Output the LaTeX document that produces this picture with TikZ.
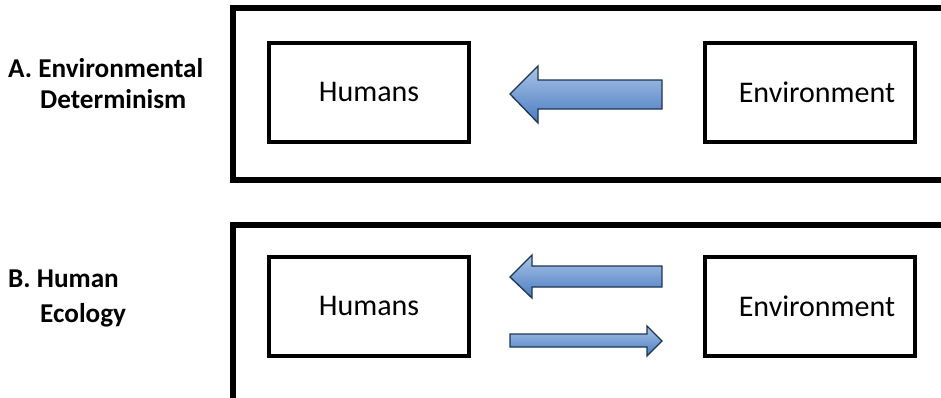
\documentclass[tikz,border=0pt]{standalone}
\usepackage{fontspec}
\setmainfont{Carlito}
\definecolor{arrowtop}{HTML}{A9C4E8}
\definecolor{arrowbot}{HTML}{4A7CC0}
\definecolor{arrowline}{HTML}{1E3550}
\begin{document}
\begin{tikzpicture}[x=1pt,y=-1pt,
  outerbox/.style={draw=black,line width=6pt},
  innerbox/.style={draw=black,line width=4pt,minimum width=200pt,minimum height=99pt,inner sep=0pt,font=\fontsize{30}{36}\selectfont},
  lbl/.style={font=\bfseries\fontsize{27.2}{33}\selectfont,anchor=base west,inner sep=0pt},
  blockarrow/.style={draw=arrowline,line width=1.3pt,line join=miter,top color=arrowtop,bottom color=arrowbot}]
\useasboundingbox (0,0) rectangle (941,397);
\clip (0,0) rectangle (941,397);
% outer frames
\draw[outerbox] (233,8) rectangle (990,180);
\draw[outerbox] (233,225) rectangle (990,430);
% labels
\node[lbl] (la1) at (8,77) {A. Environmental};
\node[lbl] (la2) at (40,108) {Determinism};
\node[lbl] (lb1) at (8,287) {B. Human};
\node[lbl] (lb2) at (40,322) {Ecology};
% boxes
\node[innerbox] (hA) at (369,92) {Humans};
\node[innerbox,minimum width=210pt] (eA) at (810,92) {\hspace*{14pt}Environment};
\node[innerbox] (hB) at (369,306) {Humans};
\node[innerbox,minimum width=210pt] (eB) at (810,306) {\hspace*{14pt}Environment};
% block arrows
\coordinate (aA) at (510,94);
\draw[blockarrow] (aA) -- (538,66) -- (538,80) -- (662,80) -- (662,109) -- (538,109) -- (538,123) -- cycle;
\coordinate (aB1) at (510,277);
\draw[blockarrow] (aB1) -- (532,255) -- (532,266) -- (662,266) -- (662,287) -- (532,287) -- (532,298) -- cycle;
\coordinate (aB2) at (662,341);
\draw[blockarrow] (aB2) -- (647,356) -- (647,347) -- (510,347) -- (510,334) -- (647,334) -- (647,326) -- cycle;
\end{tikzpicture}
\end{document}
